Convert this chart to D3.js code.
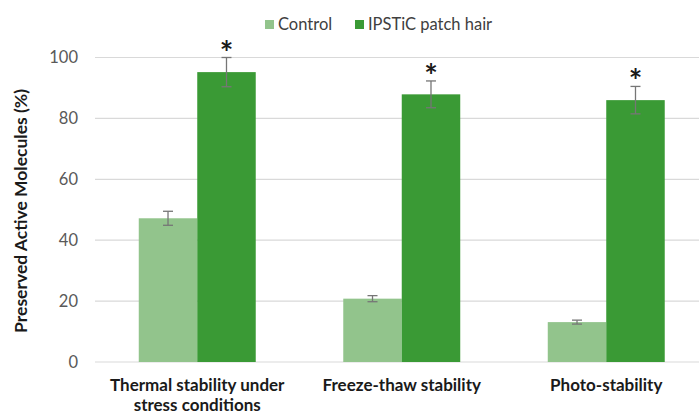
<!DOCTYPE html>
<html><head><meta charset="utf-8">
<script src="https://cdn.jsdelivr.net/npm/d3@7"></script>
<style>body{margin:0;background:#fff}svg{display:block;font-family:Lato,"Open Sans",sans-serif}</style>
</head><body><svg id="c" width="699" height="413"></svg>
<script>
const categories = [["Thermal stability under","stress conditions"],["Freeze-thaw stability"],["Photo-stability"]];
const seriesNames = ["Control","IPSTiC patch hair"];
const controlValues = [47.2, 20.8, 13.1];
const controlErrors = [2.3, 1.0, 0.65];
const patchValues = [95.2, 87.9, 86.0];
const patchErrors = [4.8, 4.4, 4.5];
const yTicks = [0,20,40,60,80,100];
const colors = ["#92c48c","#3a9a35"];

const svg = d3.select("#c");
const y = d3.scaleLinear().domain([0,100]).range([362,57.5]);
const x = d3.scaleBand().domain(d3.range(categories.length)).range([95,708.5]).paddingInner(0.428).paddingOuter(0.214);
const xs = d3.scaleBand().domain([0,1]).range([0,x.bandwidth()]);

// gridlines
svg.append("g").selectAll("line").data(yTicks).join("line")
  .attr("x1",95).attr("x2",708).attr("y1",d=>y(d)).attr("y2",d=>y(d))
  .attr("stroke","#d9d9d9").attr("stroke-width",1.2);
// y labels
svg.append("g").selectAll("text").data(yTicks).join("text")
  .attr("x",78).attr("y",d=>y(d)+5.5).attr("text-anchor","end")
  .attr("font-size",16.5).attr("fill","#595959").text(d=>d);

const series = [
  {vals:controlValues, errs:controlErrors, i:0},
  {vals:patchValues, errs:patchErrors, i:1}
];
series.forEach(s=>{
  const g = svg.append("g");
  g.selectAll("rect").data(s.vals).join("rect")
    .attr("x",(d,j)=>x(j)+xs(s.i)).attr("width",xs.bandwidth())
    .attr("y",d=>y(d)).attr("height",d=>y(0)-y(d)).attr("fill",colors[s.i]);
  const eg = svg.append("g").attr("stroke","#767676").attr("stroke-width",1.3);
  s.vals.forEach((v,j)=>{
    const cx = x(j)+xs(s.i)+xs.bandwidth()/2;
    const e = s.errs[j];
    eg.append("line").attr("x1",cx).attr("x2",cx).attr("y1",y(v+e)).attr("y2",y(v-e));
    eg.append("line").attr("x1",cx-5).attr("x2",cx+5).attr("y1",y(v+e)).attr("y2",y(v+e));
    eg.append("line").attr("x1",cx-5).attr("x2",cx+5).attr("y1",y(v-e)).attr("y2",y(v-e));
    if(s.i===1){
      svg.append("text").attr("x",cx).attr("y",y(v+e)+7).attr("text-anchor","middle")
        .attr("font-size",32).attr("font-weight","bold").attr("fill","#1a1a1a").text("*");
    }
  });
});

// x labels
const xl = svg.append("g");
categories.forEach((lines,j)=>{
  const t = xl.append("text").attr("text-anchor","middle").attr("font-size",17).attr("font-weight","bold").attr("fill","#1a1a1a");
  lines.forEach((l,k)=>t.append("tspan").attr("x",x(j)+x.bandwidth()/2).attr("y",391+k*19.5).text(l));
});

// y title
svg.append("text").attr("transform","translate(27,211) rotate(-90)").attr("text-anchor","middle")
  .attr("font-size",17.5).attr("font-weight","bold").attr("fill","#1a1a1a").text("Preserved Active Molecules (%)");

// legend
const lx = [265,355];
seriesNames.forEach((n,i)=>{
  svg.append("rect").attr("x",lx[i]).attr("y",20).attr("width",9).attr("height",9).attr("fill",colors[i]);
  svg.append("text").attr("x",lx[i]+13).attr("y",29.5).attr("font-size",16.5).attr("fill","#404040").text(n);
});
</script></body></html>
